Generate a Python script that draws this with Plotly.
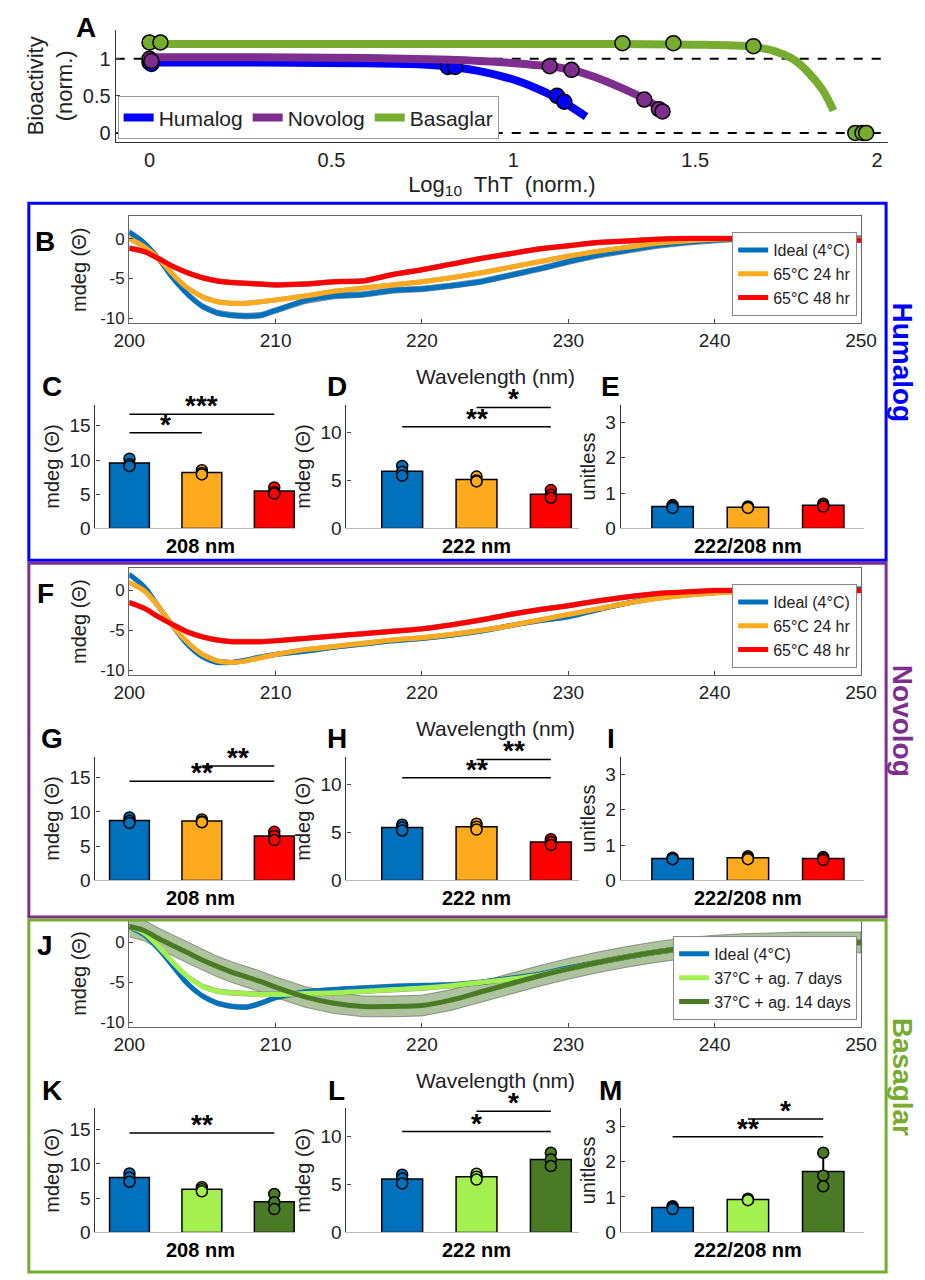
import numpy as np
import plotly.graph_objects as go

W, H = 925, 1280
FONT = "Liberation Sans, Arial, sans-serif"

def fx(p):
    return p / W

def fy(p):
    return 1 - p / H

# ---------------- Panel A data ----------------
hum_x = [0, 0.2, 0.4, 0.6, 0.7, 0.8, 0.9, 1.0, 1.05, 1.1, 1.15, 1.2]
hum_y = [0.95, 0.95, 0.945, 0.94, 0.93, 0.905, 0.84, 0.72, 0.63, 0.52, 0.38, 0.22]
hum_px = [0, 0.005, 0.82, 0.84, 1.12, 1.14]
hum_py = [0.95, 0.93, 0.89, 0.89, 0.5, 0.42]
nov_x = [0, 0.3, 0.6, 0.8, 0.95, 1.05, 1.1, 1.16, 1.22, 1.3, 1.36, 1.42]
nov_y = [1.02, 1.02, 1.01, 0.99, 0.96, 0.92, 0.9, 0.85, 0.76, 0.6, 0.46, 0.28]
nov_px = [0, 0.005, 1.1, 1.16, 1.36, 1.4, 1.41]
nov_py = [1.0, 0.97, 0.9, 0.85, 0.45, 0.32, 0.29]
bas_x = [0, 0.5, 1.0, 1.3, 1.5, 1.6, 1.66, 1.72, 1.77, 1.81, 1.85, 1.88]
bas_y = [1.2, 1.2, 1.2, 1.2, 1.19, 1.18, 1.16, 1.1, 0.99, 0.82, 0.58, 0.3]
bas_px = [0, 0.03, 1.3, 1.44, 1.66, 1.94, 1.96, 1.97]
bas_py = [1.22, 1.22, 1.21, 1.21, 1.17, 0, 0, 0]

# ---------------- CD spectra ----------------
wl = [200, 201, 202, 203, 204, 205, 206, 207, 208, 209, 210, 212, 214, 216, 218, 220,
      222, 224, 226, 228, 230, 232, 234, 236, 238, 240, 242, 244, 246, 248, 250]
hum_ideal = [0.8, -0.5, -2.5, -5, -7, -8.5, -9.3, -9.6, -9.7, -9.6, -9.0, -7.8, -7.2, -7.0, -6.5, -6.3,
             -5.9, -5.4, -4.6, -3.8, -2.9, -2.1, -1.5, -0.9, -0.5, -0.2, 0, 0, 0, 0, 0]
hum_24 = [0, -1, -2.5, -4.5, -6.2, -7.3, -7.9, -8.1, -8.1, -7.9, -7.7, -7.2, -6.6, -6.2, -5.8, -5.4,
          -4.9, -4.3, -3.6, -2.9, -2.2, -1.6, -1.1, -0.6, -0.3, -0.1, 0, 0, 0, -0.1, -0.1]
hum_48 = [-1.2, -1.6, -2.5, -3.5, -4.3, -4.9, -5.3, -5.5, -5.6, -5.7, -5.8, -5.7, -5.4, -5.3, -4.5, -3.9,
          -3.2, -2.5, -1.9, -1.3, -0.9, -0.5, -0.3, -0.1, 0, 0, 0, 0, 0, -0.1, -0.2]
nov_ideal = [2.0, 0.5, -2, -4.5, -6.8, -8.3, -9.0, -9.0, -8.7, -8.3, -8.0, -7.6, -7.1, -6.7, -6.3, -6.0,
             -5.6, -5.1, -4.4, -3.8, -3.3, -2.4, -1.6, -0.9, -0.5, -0.2, 0, 0.1, 0.2, 0.2, 0.2]
nov_24 = [1.0, 0, -2, -4.5, -6.5, -8.0, -8.8, -9.0, -8.8, -8.4, -8.0, -7.4, -7.0, -6.6, -6.2, -5.9,
          -5.5, -5.0, -4.4, -3.7, -3.0, -2.3, -1.6, -1.0, -0.6, -0.3, -0.1, 0, 0, 0, 0]
nov_48 = [-1.5, -2.2, -3.3, -4.3, -5.2, -5.8, -6.2, -6.4, -6.4, -6.4, -6.3, -6.0, -5.7, -5.4, -5.1, -4.8,
          -4.3, -3.7, -3.0, -2.4, -1.9, -1.3, -0.8, -0.4, -0.2, 0, 0, 0, 0, 0, 0]
bas_ideal = [2.0, 1.0, -0.8, -3, -5.2, -6.7, -7.6, -8.0, -8.1, -7.6, -6.9, -6.2, -5.9, -5.7, -5.5, -5.4,
             -5.3, -5.0, -4.5, -4.0, -3.2, -2.5, -1.8, -1.2, -0.7, -0.4, -0.2, 0, 0, 0, 0]
bas_7d = [2.0, 1.2, -0.5, -2.5, -4.3, -5.5, -6.1, -6.3, -6.4, -6.5, -6.5, -6.4, -6.3, -6.1, -5.9, -5.7,
          -5.4, -5.0, -4.6, -4.1, -3.3, -2.5, -1.8, -1.2, -0.7, -0.4, -0.2, 0, 0, 0, 0]
bas_14d = [2.0, 1.5, 0.5, -0.4, -1.3, -2.2, -3.0, -3.7, -4.3, -4.9, -5.6, -6.8, -7.6, -8.0, -8.0, -7.9,
           -7.2, -6.2, -5.2, -4.2, -3.3, -2.5, -1.8, -1.2, -0.7, -0.4, -0.2, -0.1, 0, 0, 0]
hum_sd = [0.35, 0.25, 0.3]
nov_sd = [0.25, 0.25, 0.3]
bas_sd = [0.3, 0.3, 1.3]

# ---------------- bar data (3 replicates per group) ----------------
C_pts = [[10.2, 9.4, 9.1], [8.5, 8.1, 7.9], [6.0, 5.3, 5.1]]
D_pts = [[6.5, 5.9, 5.5], [5.4, 5.0, 4.9], [4.0, 3.5, 3.2]]
E_pts = [[0.66, 0.62, 0.58], [0.62, 0.60, 0.58], [0.70, 0.64, 0.62]]
G_pts = [[9.2, 8.7, 8.4], [8.9, 8.6, 8.5], [7.1, 6.5, 5.9]]
H_pts = [[5.8, 5.5, 5.2], [5.9, 5.6, 5.3], [4.3, 4.0, 3.7]]
I_pts = [[0.64, 0.62, 0.60], [0.68, 0.64, 0.60], [0.66, 0.62, 0.58]]
K_pts = [[8.6, 8.0, 7.4], [6.6, 6.3, 6.0], [5.6, 4.4, 3.4]]
L_pts = [[6.0, 5.6, 5.1], [6.1, 5.8, 5.5], [8.3, 7.6, 6.9]]
M_pts = [[0.74, 0.70, 0.66], [0.95, 0.93, 0.91], [2.25, 1.60, 1.30]]

# significance: (from, to, height, stars)
C_sig = [(1, 2, 14.0, "*"), (1, 3, 16.7, "***")]
D_sig = [(1, 3, 10.6, "**"), (2, 3, 12.6, "*")]
E_sig = []
G_sig = [(1, 3, 14.5, "**"), (2, 3, 16.7, "**")]
H_sig = [(1, 3, 10.7, "**"), (2, 3, 12.6, "**")]
I_sig = []
K_sig = [(1, 3, 14.5, "**")]
L_sig = [(1, 3, 10.5, "*"), (2, 3, 12.6, "*")]
M_sig = [(1, 3, 2.7, "**"), (2, 3, 3.2, "*")]

BLUE, ORANGE, RED = "#0072BD", "#FDAA1E", "#FF0000"
LGREEN, DGREEN = "#A4F050", "#4A7A25"
HUM_C, NOV_C, BAS_C = "#0000FF", "#7E2F8E", "#77AC30"

fig = go.Figure()
layout = dict(width=W, height=H, margin=dict(l=0, r=0, t=0, b=0), paper_bgcolor="white",
              plot_bgcolor="white", font=dict(family=FONT, size=17, color="#222"), showlegend=True)
annotations, shapes = [], []

def note(text, x, y, size, color="black", **kw):
    d = dict(text=text, x=fx(x), y=fy(y), xref="paper", yref="paper", showarrow=False,
             xanchor="center", yanchor="middle", font=dict(size=size, color=color))
    d.update(kw)
    annotations.append(d)

def letter(t, x, y):
    note(f"<b>{t}</b>", x, y, 28)

def ax_common(**kw):
    d = dict(showline=True, linecolor="#333", linewidth=1.2, ticks="inside", ticklen=4,
             showgrid=False, zeroline=False, tickfont=dict(size=17, color="#222"))
    d.update(kw)
    return d

# ---------------- Panel A ----------------
for xs, ys, pxs, pys, c, name in [(hum_x, hum_y, hum_px, hum_py, HUM_C, "Humalog"),
                                  (nov_x, nov_y, nov_px, nov_py, NOV_C, "Novolog"),
                                  (bas_x, bas_y, bas_px, bas_py, BAS_C, "Basaglar")]:
    fig.add_trace(go.Scatter(x=xs, y=ys, mode="lines", line=dict(color=c, width=8, shape="spline"),
                             name=name, legend="legend", xaxis="x", yaxis="y"))
    fig.add_trace(go.Scatter(x=pxs, y=pys, mode="markers", showlegend=False, xaxis="x", yaxis="y",
                             marker=dict(color=c, size=15, line=dict(color="black", width=1.5))))
layout["xaxis"] = ax_common(domain=[fx(95), fx(895)], range=[-0.093, 2.03], tickvals=[0, 0.5, 1, 1.5, 2],
                            anchor="y", ticks="", tickfont=dict(size=20),
                            title=dict(text="Log<sub>10</sub>  ThT  (norm.)", font=dict(size=22), standoff=6))
layout["yaxis"] = ax_common(domain=[fy(135), fy(22)], range=[-0.12, 1.39], tickvals=[0, 0.5, 1],
                            anchor="x", tickfont=dict(size=20),
                            title=dict(text="Bioactivity<br>(norm.)", font=dict(size=22), standoff=4))
for yv in [0, 1]:
    shapes.append(dict(type="line", xref="x", yref="y", x0=-0.093, x1=2.03, y0=yv, y1=yv,
                       line=dict(color="black", width=2, dash="dash"), layer="below"))
layout["legend"] = dict(x=fx(97), y=fy(89), xanchor="left", yanchor="top", orientation="h",
                        bgcolor="white", bordercolor="#999", borderwidth=1, font=dict(size=21),
                        itemwidth=30, tracegroupgap=0)
letter("A", 64, 20)

# ---------------- blocks ----------------
blocks = [
    dict(dy=0, name="Humalog", col=HUM_C, box=(5, 197, 893, 557), letters="BCDE",
         curves=[(hum_ideal, BLUE, "Ideal (4°C)"), (hum_24, ORANGE, "65°C 24 hr"), (hum_48, RED, "65°C 48 hr")],
         sd=hum_sd, bars=[C_pts, D_pts, E_pts], sigs=[C_sig, D_sig, E_sig], bcol=[BLUE, ORANGE, RED]),
    dict(dy=355, name="Novolog", col=NOV_C, box=(5, 560, 893, 917), letters="FGHI",
         curves=[(nov_ideal, BLUE, "Ideal (4°C)"), (nov_24, ORANGE, "65°C 24 hr"), (nov_48, RED, "65°C 48 hr")],
         sd=nov_sd, bars=[G_pts, H_pts, I_pts], sigs=[G_sig, H_sig, I_sig], bcol=[BLUE, ORANGE, RED]),
    dict(dy=710, name="Basaglar", col=BAS_C, box=(5, 920, 893, 1275), letters="JKLM",
         curves=[(bas_ideal, BLUE, "Ideal (4°C)"), (bas_7d, LGREEN, "37°C + ag. 7 days"),
                 (bas_14d, DGREEN, "37°C + ag. 14 days")],
         sd=bas_sd, bars=[K_pts, L_pts, M_pts], sigs=[K_sig, L_sig, M_sig], bcol=[BLUE, LGREEN, DGREEN]),
]

bar_specs = [  # x pixel domain, x range, y range, ticks, label centre px, label
    ((74, 281), [0.53, 3.29], [0, 18.1], [0, 5, 10, 15], 183, "208 nm"),
    ((334, 575), [0.25, 3.38], [0, 12.9], [0, 5, 10], 469, "222 nm"),
    ((618, 870), [0.31, 3.54], [0, 3.5], [0, 1, 2, 3], 750, "222/208 nm"),
]

def hex_rgba(h, a):
    h = h.lstrip("#")
    return f"rgba({int(h[0:2], 16)},{int(h[2:4], 16)},{int(h[4:6], 16)},{a})"

n = 2
for bi, b in enumerate(blocks):
    dy = b["dy"]
    x0, y0, x1, y1 = b["box"]
    shapes.append(dict(type="rect", xref="paper", yref="paper", x0=fx(x0), x1=fx(x1), y0=fy(y0), y1=fy(y1),
                       line=dict(color=b["col"], width=3)))
    note(f"<b>{b['name']}</b>", 910, (y0 + y1) / 2 - 20, 28, b["col"], textangle=90)
    # CD spectrum
    xa, ya = f"x{n}", f"y{n}"
    lg = f"legend{bi + 2}"
    for (vals, c, nm), sd in zip(b["curves"], b["sd"]):
        v = np.array(vals, dtype=float)
        fig.add_trace(go.Scatter(x=wl + wl[::-1], y=list(v + sd) + list((v - sd)[::-1]), fill="toself",
                                 fillcolor=hex_rgba(c, 0.45), line=dict(color="rgba(60,60,60,0.6)", width=0.8),
                                 mode="lines", showlegend=False, hoverinfo="skip", xaxis=xa, yaxis=ya))
    for vals, c, nm in b["curves"]:
        fig.add_trace(go.Scatter(x=wl, y=vals, mode="lines", line=dict(color=c, width=5, shape="spline"),
                                 name=nm, legend=lg, xaxis=xa, yaxis=ya))
    layout[f"xaxis{n}"] = ax_common(domain=[fx(109), fx(867)], range=[200, 250], anchor=ya, mirror=True,
                                    linecolor="#666", tickvals=[200, 210, 220, 230, 240, 250],
                                    tickfont=dict(size=19))
    layout[f"yaxis{n}"] = ax_common(domain=[fy(318 + dy), fy(210 + dy)], range=[-10.6, 2.8], anchor=xa,
                                    mirror=True, linecolor="#666", tickvals=[-10, -5, 0],
                                    ticktext=["-10", "-5", "0"],
                                    title=dict(text="mdeg (Θ)", font=dict(size=20), standoff=8))
    note("Wavelength (nm)", 488, 372 + dy, 21, "#222")
    layout[lg] = dict(x=fx(863), y=fy(226 + dy), xanchor="right", yanchor="top", bgcolor="white",
                      bordercolor="#888", borderwidth=1, font=dict(size=16), tracegroupgap=0,
                      itemwidth=30)
    letter(b["letters"][0], 22, 236 + dy)
    n += 1
    # bar panels
    for k, (pts, sigs, spec) in enumerate(zip(b["bars"], b["sigs"], bar_specs)):
        (px0, px1), xr, yr, tv, lab_x, lab = spec
        xa, ya = f"x{n}", f"y{n}"
        arr = np.array(pts)
        means = arr.mean(axis=1)
        sds = arr.std(axis=1, ddof=1)
        cats = [1, 2, 3]
        fig.add_trace(go.Bar(x=cats, y=means, width=0.55, marker=dict(color=b["bcol"], line=dict(color="black", width=1.5)),
                             error_y=dict(type="data", array=sds, color="black", thickness=2, width=0),
                             showlegend=False, xaxis=xa, yaxis=ya))
        fig.add_trace(go.Scatter(x=np.repeat(cats, 3), y=arr.flatten(), mode="markers", showlegend=False,
                                 marker=dict(color=np.repeat(b["bcol"], 3), size=11,
                                             line=dict(color="black", width=1.5)), xaxis=xa, yaxis=ya))
        layout[f"xaxis{n}"] = ax_common(domain=[fx(px0), fx(px1)], range=xr, anchor=ya, showticklabels=False,
                                        ticks="", linecolor="#bbb")
        ytitle = "unitless" if k == 2 else "mdeg (Θ)"
        layout[f"yaxis{n}"] = ax_common(domain=[fy(525 + dy), fy(400 + dy)], range=yr, anchor=xa, tickvals=tv,
                                        tickfont=dict(size=19),
                                        title=dict(text=ytitle, font=dict(size=20), standoff=4))
        for a, c2, hgt, st in sigs:
            shapes.append(dict(type="line", xref=xa, yref=ya, x0=a, x1=c2, y0=hgt, y1=hgt,
                               line=dict(color="black", width=1.5)))
            annotations.append(dict(text=f"<b>{st}</b>", x=(a + c2) / 2, y=hgt, xref=xa, yref=ya,
                                    xanchor="center", yanchor="bottom", yshift=-9, showarrow=False,
                                    font=dict(size=28, color="black")))
        note(f"<b>{lab}</b>", lab_x, 543 + dy, 20)
        letter(b["letters"][k + 1], px0 - 45 if k == 0 else px0 - 10, 382 + dy)
        n += 1

layout["annotations"] = annotations
layout["shapes"] = shapes
fig.update_layout(**layout)
fig.write_html("out.html")
